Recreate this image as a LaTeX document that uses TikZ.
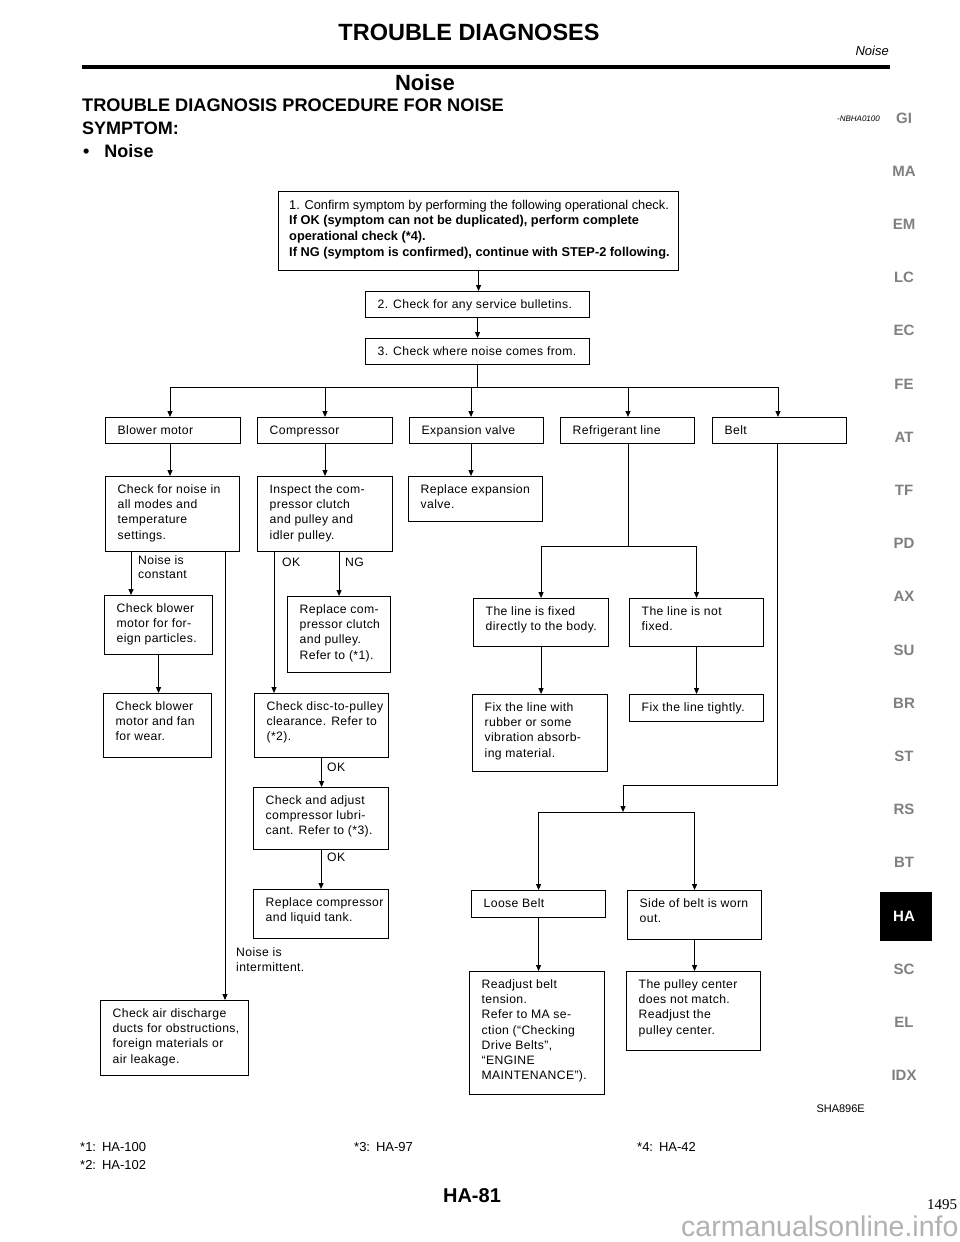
\documentclass[tikz,border=0pt]{standalone}
\usepackage{fontspec}
\setmainfont{Liberation Sans}
\newfontfamily\boxfont[LetterSpace=3]{Liberation Sans}
\newfontfamily\serifnum{Liberation Serif}
\usetikzlibrary{arrows.meta,calc}
\newcommand{\ml}[2][15.2]{\vtop{\let\\\cr\baselineskip=#1pt\halign{##\hfil\cr#2\crcr}}}
\newcommand{\bxn}[6]{%
  \node[bx, minimum width=#4pt, minimum height=#5pt] (#1) at (#2,#3) {};
  \node[tx] (#1-t) at ([xshift=12.5pt,yshift=-17.5pt]#1.north west) {\ml{#6}};}
\begin{document}
\begin{tikzpicture}[x=1pt,y=-1pt,
  bx/.style={draw, line width=1.1pt, anchor=north west, inner sep=0pt},
  tx/.style={anchor=base west, inner sep=0pt, font=\boxfont\fontsize{12.2}{15.2}\selectfont},
  lbl/.style={anchor=base west, inner sep=0pt, font=\boxfont\fontsize{12.2}{14}\selectfont},
  ln/.style={line width=1pt},
  arr/.style={line width=1pt, -{Triangle[length=6pt,width=5pt]}},
  tab/.style={inner sep=0pt, font=\bfseries\fontsize{15}{17}\selectfont, text=black!50},
  foot/.style={anchor=base west, inner sep=0pt, font=\fontsize{13}{15}\selectfont}]
\useasboundingbox (0,0) rectangle (960,1242);
\fill[white] (0,0) rectangle (960,1242);

% ---------- header ----------
\node[anchor=base, inner sep=0pt, font=\bfseries\fontsize{23.5}{27}\selectfont] (hdr) at (469,40) {TROUBLE DIAGNOSES};
\node[anchor=base east, inner sep=0pt, font=\itshape\fontsize{13}{15}\selectfont] (hdrr) at (889,55) {Noise};
\draw[line width=3.5pt] (82,67) -- (890,67);
\node[anchor=base, inner sep=0pt, font=\bfseries\fontsize{22}{26}\selectfont] (ttl) at (425,90) {Noise};
\node[anchor=base west, inner sep=0pt, font=\bfseries\fontsize{18.2}{22}\selectfont] (sub) at (82,111.5) {TROUBLE DIAGNOSIS PROCEDURE FOR NOISE};
\node[anchor=base west, inner sep=0pt, font=\bfseries\fontsize{18}{22}\selectfont] (sym) at (82,134.5) {SYMPTOM:};
\node[anchor=base west, inner sep=0pt, font=\bfseries\fontsize{18}{22}\selectfont] (bul) at (82,157.5) {\hspace{1pt}•\hspace{15pt}Noise};
\node[anchor=base east, inner sep=0pt, font=\itshape\fontsize{8}{9}\selectfont] (code) at (880,121) {-NBHA0100};

% ---------- side tabs ----------
\foreach \t/\i in {GI/0,MA/1,EM/2,LC/3,EC/4,FE/5,AT/6,TF/7,PD/8,AX/9,SU/10,BR/11,ST/12,RS/13,BT/14,SC/16,EL/17,IDX/18}
  \node[tab] (tab-\t) at (904,{118+53.2*\i}) {\t};
\fill[black] (880,892) rectangle (932,941);
\node[tab, text=white] (tab-HA) at (904,916.5) {HA};

% ---------- boxes ----------
\node[bx, minimum width=400pt, minimum height=79pt] (b1) at (278,191) {};
\node[anchor=base west, inner sep=0pt, font=\fontsize{12.8}{15.8}\selectfont] (b1-t) at ([xshift=11pt,yshift=-18pt]b1.north west)
  {\ml[15.8]{1. Confirm symptom by performing the following operational check.\\\textbf{If OK (symptom can not be duplicated), perform complete}\\\textbf{operational check (*4).}\\\textbf{If NG (symptom is confirmed), continue with STEP-2 following.}}};
\bxn{b2}{365}{291}{224}{26}{2. Check for any service bulletins.}
\bxn{b3}{365}{338}{224}{26}{3. Check where noise comes from.}

\bxn{blower}{105}{417}{135}{26}{Blower motor}
\bxn{comp}{257}{417}{135}{26}{Compressor}
\bxn{expv}{409}{417}{134}{26}{Expansion valve}
\bxn{refl}{560}{417}{134}{26}{Refrigerant line}
\bxn{belt}{712}{417}{134}{26}{Belt}

\bxn{chkn}{105}{476}{134}{75}{Check for noise in\\all modes and\\temperature\\settings.}
\bxn{insp}{257}{476}{135}{75}{Inspect the com-\\pressor clutch\\and pulley and\\idler pulley.}
\bxn{repexp}{408}{476}{134}{45}{Replace expansion\\valve.}
\bxn{blowf}{104}{595}{108}{59}{Check blower\\motor for for-\\eign particles.}
\bxn{repcl}{287}{596}{103}{76}{Replace com-\\pressor clutch\\and pulley.\\Refer to (*1).}
\bxn{lfix}{473}{598}{135}{48}{The line is fixed\\directly to the body.}
\bxn{lnot}{629}{598}{134}{48}{The line is not\\fixed.}
\bxn{blfan}{103}{693}{108}{64}{Check blower\\motor and fan\\for wear.}
\bxn{disc}{254}{693}{134}{64}{Check disc-to-pulley\\clearance. Refer to\\(*2).}
\bxn{fixr}{472}{694}{135}{77}{Fix the line with\\rubber or some\\vibration absorb-\\ing material.}
\bxn{fixt}{629}{694}{134}{27}{Fix the line tightly.}
\bxn{adj}{253}{787}{135}{62}{Check and adjust\\compressor lubri-\\cant. Refer to (*3).}
\bxn{repc}{253}{889}{135}{49}{Replace compressor\\and liquid tank.}
\bxn{loose}{471}{890}{134}{27}{Loose Belt}
\bxn{side}{627}{890}{134}{49}{Side of belt is worn\\out.}
\bxn{air}{100}{1000}{148}{75}{Check air discharge\\ducts for obstructions,\\foreign materials or\\air leakage.}
\bxn{readj}{469}{971}{135}{123}{Readjust belt\\tension.\\Refer to MA se-\\ction (“Checking\\Drive Belts”,\\“ENGINE\\MAINTENANCE”).}
\bxn{pulley}{626}{971}{134}{79}{The pulley center\\does not match.\\Readjust the\\pulley center.}

% ---------- connectors ----------
\draw[arr] (b1.south) -- (b1.south |- b2.north);
\draw[arr] (b2.south) -- (b2.south |- b3.north);
\coordinate (bA) at (170,387);
\coordinate (bB) at (325,387);
\coordinate (bC) at (471,387);
\coordinate (bD) at (628,387);
\coordinate (bE) at (778,387);
\draw[ln] (b3.south) -- (b3.south |- bA);
\draw[ln] (bA) -- (bE);
\draw[arr] (bA) -- (bA |- blower.north);
\draw[arr] (bB) -- (bB |- comp.north);
\draw[arr] (bC) -- (bC |- expv.north);
\draw[arr] (bD) -- (bD |- refl.north);
\draw[arr] (bE) -- (bE |- belt.north);

\draw[arr] (bA |- blower.south) -- (bA |- chkn.north);
\draw[arr] (bB |- comp.south) -- (bB |- insp.north);
\draw[arr] (bC |- expv.south) -- (bC |- repexp.north);

\coordinate (rj) at (628,546);
\draw[ln] (bD |- refl.south) -- (rj);
\draw[arr] (rj) -| (lfix.north);
\draw[arr] (rj) -| (lnot.north);
\draw[arr] (lfix.south) -- (lfix.south |- fixr.north);
\draw[arr] (lnot.south) -- (lnot.south |- fixt.north);

\coordinate (bt1) at (777,785);
\coordinate (bt2) at (623,785);
\coordinate (bt3) at (623,812);
\draw[arr] (belt.south -| bt1) -- (bt1) -- (bt2) -- (bt3);
\draw[arr] (bt3) -| (loose.north);
\draw[arr] (bt3) -| (side.north);
\draw[arr] (loose.south) -- (loose.south |- readj.north);
\draw[arr] (side.south) -- (side.south |- pulley.north);

\coordinate (nc) at ([xshift=26pt]chkn.south west);
\draw[arr] (nc) -- (nc |- blowf.north);
\coordinate (ni) at ([xshift=120pt]chkn.south west);
\draw[arr] (ni) -- (ni |- air.north);
\draw[arr] (blowf.south) -- (blowf.south |- blfan.north);
\coordinate (okc) at ([xshift=17pt]insp.south west);
\draw[arr] (okc) -- (okc |- disc.north);
\draw[arr] (repcl.north |- insp.south) -- (repcl.north);
\draw[arr] (disc.south) -- (disc.south |- adj.north);
\draw[arr] (adj.south) -- (adj.south |- repc.north);

% ---------- labels ----------
\node[lbl] (l-const) at (138,564.5) {\ml[14]{Noise is\\constant}};
\node[lbl] (l-ok1) at (282,566) {OK};
\node[lbl] (l-ng) at (345,566) {NG};
\node[lbl] (l-ok2) at (327,771.5) {OK};
\node[lbl] (l-ok3) at (327,861.5) {OK};
\node[lbl] (l-int) at (236,956.5) {\ml[15]{Noise is\\intermittent.}};

% ---------- footer ----------
\node[anchor=base east, inner sep=0pt, font=\fontsize{11}{13}\selectfont] (fig) at (865,1112) {SHA896E};
\node[foot] (f1) at (80,1151) {*1:\hspace{6pt}HA-100};
\node[foot] (f2) at (80,1169) {*2:\hspace{6pt}HA-102};
\node[foot] (f3) at (354,1151) {*3:\hspace{6pt}HA-97};
\node[foot] (f4) at (637,1151) {*4:\hspace{6pt}HA-42};
\node[anchor=base, inner sep=0pt, font=\bfseries\fontsize{20}{24}\selectfont] (pg) at (472,1202) {HA-81};
\node[anchor=base west, inner sep=0pt, font=\serifnum\fontsize{15}{17}\selectfont] (pgn) at (927,1209) {1495};
\node[anchor=base west, inner sep=0pt, text=black!30, font=\fontsize{28.5}{32}\selectfont] (wm) at (681,1236) {carmanualsonline.info};
\end{tikzpicture}
\end{document}
